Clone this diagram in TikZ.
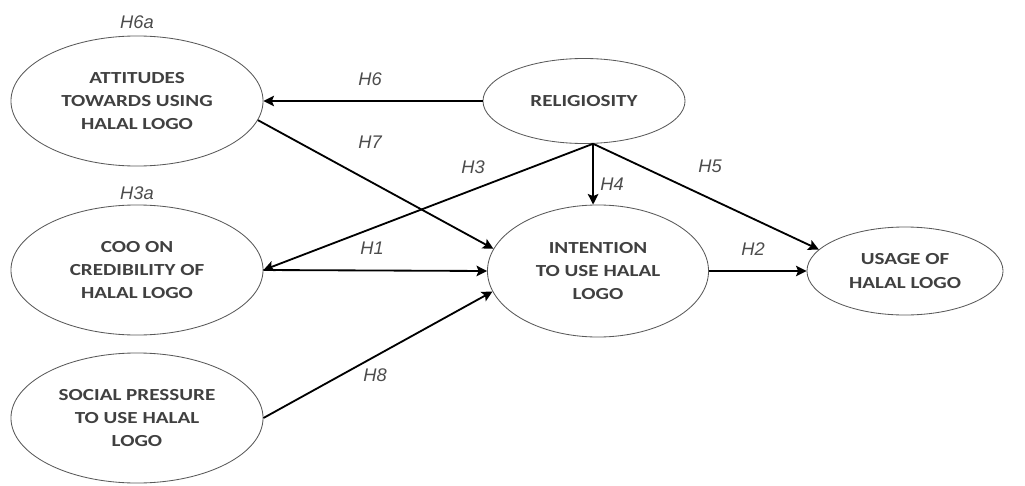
\documentclass[tikz,border=0pt]{standalone}
\usepackage{fontspec}
\setmainfont{Carlito}
\newfontfamily\cfont[FakeStretch=1.25]{Carlito}
\newfontfamily\labfont{Liberation Sans}
\usetikzlibrary{arrows.meta,shapes.geometric}
\begin{document}
\begin{tikzpicture}[x=0.025cm,y=-0.025cm,
  construct/.style={ellipse,draw=black!65,line width=0.6pt,inner sep=0pt,align=center,
    text=black!75,font=\cfont\fontsize{12}{16.5}\selectfont\bfseries},
  path/.style={line width=1.3pt,-{Stealth[length=7.5pt,width=7.5pt,inset=1.5pt]}},
  hyp/.style={font=\labfont\itshape\fontsize{13}{15}\selectfont,text=black!70,inner sep=0pt}]
\useasboundingbox (0,0) rectangle (1025,486);
\node[construct,minimum width=6.3cm,minimum height=3.25cm] (att) at (137,101) {ATTITUDES\\TOWARDS USING\\HALAL LOGO};
\node[construct,minimum width=6.3cm,minimum height=3.25cm] (coo) at (137,270) {COO ON\\CREDIBILITY OF\\HALAL LOGO};
\node[construct,minimum width=6.3cm,minimum height=3.25cm] (soc) at (137,418) {SOCIAL PRESSURE\\TO USE HALAL\\LOGO};
\node[construct,minimum width=5.05cm,minimum height=2.125cm] (rel) at (584,101) {RELIGIOSITY};
\node[construct,minimum width=5.525cm,minimum height=3.3cm] (int) at (598,271) {INTENTION\\TO USE HALAL\\LOGO};
\node[construct,minimum width=4.9cm,minimum height=2.2cm] (use) at (905,271) {USAGE OF\\HALAL LOGO};
\coordinate (hub) at (rel.-78);
\draw[path] (rel.west) -- (att.east);
\draw[path] (att.-9) -- (int.168);
\draw[path] (hub) -- (coo.east);
\draw[path] (coo.east) -- (int.west);
\draw[path] (hub) -- (hub |- int.north);
\draw[path] (hub) -- (use.166);
\draw[path] (int.east) -- (use.west);
\draw[path] (soc.east) -- (int.191);
\node[hyp] (h6a) at (137,22) {H6a};
\node[hyp] (h3a) at (137,193) {H3a};
\node[hyp] (h6) at (370,79) {H6};
\node[hyp] (h7) at (370,142) {H7};
\node[hyp] (h3) at (473,167) {H3};
\node[hyp] (h1) at (372,248) {H1};
\node[hyp] (h4) at (612,184) {H4};
\node[hyp] (h5) at (710,166) {H5};
\node[hyp] (h2) at (753,249) {H2};
\node[hyp] (h8) at (375,375) {H8};
\end{tikzpicture}
\end{document}
